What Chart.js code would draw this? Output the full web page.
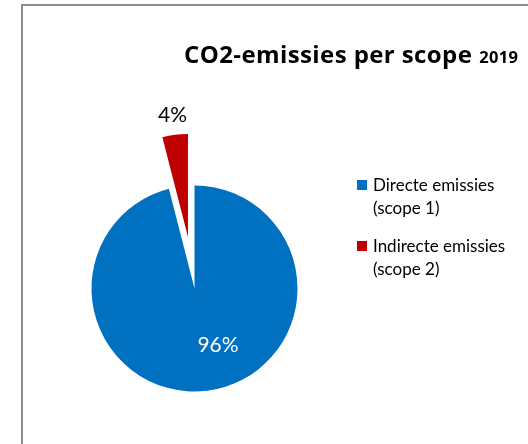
<!DOCTYPE html>
<html>
<head>
<meta charset="utf-8">
<script src="https://cdn.jsdelivr.net/npm/chart.js"></script>
<style>
    html, body { margin: 0; padding: 0; background: #ffffff; }
    #wrap { position: relative; width: 528px; height: 444px; overflow: hidden; }
    #frame {
        position: absolute;
        left: 21px;
        top: 4px;
        width: 600px;
        height: 600px;
        border: 2px solid #8c8c8c;
        box-sizing: border-box;
    }
    #chart { position: absolute; left: 0; top: 0; }
</style>
</head>
<body>
<div id="wrap">
    <div id="frame"></div>
    <canvas id="chart" width="528" height="444"></canvas>
</div>
<script>
// data
const categories = [
    ['Directe emissies', '(scope 1)'],
    ['Indirecte emissies', '(scope 2)']
];
const shares = [96, 4];
const sliceColors = ['#0070C0', '#C00000'];

const FONT = 'Lato, "Open Sans", sans-serif';
const TITLE_FONT = '"Open Sans", Lato, sans-serif';

// pulls a slice out of the pie along its middle angle
const explodePlugin = {
    id: 'explode',
    afterDatasetUpdate(chart, args, opts) {
        const meta = chart.getDatasetMeta(args.index);
        meta.data.forEach((arc, i) => {
            const d = (opts.distance || [])[i] || 0;
            if (!d) return;
            const mid = (arc.startAngle + arc.endAngle) / 2;
            arc.x += Math.cos(mid) * d;
            arc.y += Math.sin(mid) * d;
        });
    }
};

// percentage labels on / next to the slices
const sliceLabels = {
    id: 'sliceLabels',
    afterDatasetsDraw(chart, args, opts) {
        const ctx = chart.ctx;
        const meta = chart.getDatasetMeta(0);
        const total = shares.reduce((a, b) => a + b, 0);
        ctx.save();
        ctx.font = '21px ' + FONT;
        ctx.textAlign = 'center';
        ctx.textBaseline = 'middle';
        meta.data.forEach((arc, i) => {
            const p = opts.place[i];
            const a = (arc.startAngle + arc.endAngle) / 2 + p.shift * Math.PI / 180;
            const r = arc.outerRadius * p.radius;
            ctx.fillStyle = p.color;
            ctx.fillText(Math.round(shares[i] / total * 100) + '%', arc.x + Math.cos(a) * r, arc.y + Math.sin(a) * r);
        });
        ctx.restore();
    }
};

// title with the smaller year, and a legend with wrapped labels
const titleAndLegend = {
    id: 'titleAndLegend',
    afterDraw(chart) {
        const ctx = chart.ctx;
        ctx.save();
        ctx.fillStyle = '#000000';
        ctx.textAlign = 'left';
        ctx.textBaseline = 'alphabetic';
        ctx.font = 'bold 24px ' + TITLE_FONT;
        ctx.letterSpacing = '0.4px';
        const main = 'CO2-emissies per scope';
        ctx.fillText(main, 184, 62.5);
        const w = ctx.measureText(main).width;
        ctx.font = 'bold 16.5px ' + TITLE_FONT;
        ctx.letterSpacing = '0.3px';
        ctx.fillText('2019', 184 + w + 7, 62.5);
        ctx.letterSpacing = '0px';

        ctx.font = '17px ' + FONT;
        const itemTop = [180, 241];
        chart.data.labels.forEach((lines, i) => {
            const y = itemTop[i];
            ctx.fillStyle = chart.data.datasets[0].backgroundColor[i];
            ctx.fillRect(357, y, 10, 10);
            ctx.fillStyle = '#000000';
            lines.forEach((line, j) => {
                ctx.fillText(line, 373, y + 11 + j * 22.5);
            });
        });
        ctx.restore();
    }
};

new Chart(document.getElementById('chart'), {
    type: 'pie',
    data: {
        labels: categories,
        datasets: [{
            data: shares,
            backgroundColor: sliceColors,
            borderWidth: 0,
            radius: 103
        }]
    },
    options: {
        responsive: false,
        animation: false,
        events: [],
        layout: { padding: { left: 0, right: 139, top: 133, bottom: 0 } },
        plugins: {
            legend: { display: false },
            title: { display: false },
            tooltip: { enabled: false },
            explode: { distance: [0, 52] },
            sliceLabels: {
                place: [
                    { shift: -15.4, radius: 0.594, color: '#ffffff' },
                    { shift: 0, radius: 1.19, color: '#000000' }
                ]
            }
        }
    },
    plugins: [explodePlugin, sliceLabels, titleAndLegend]
});
</script>
</body>
</html>
